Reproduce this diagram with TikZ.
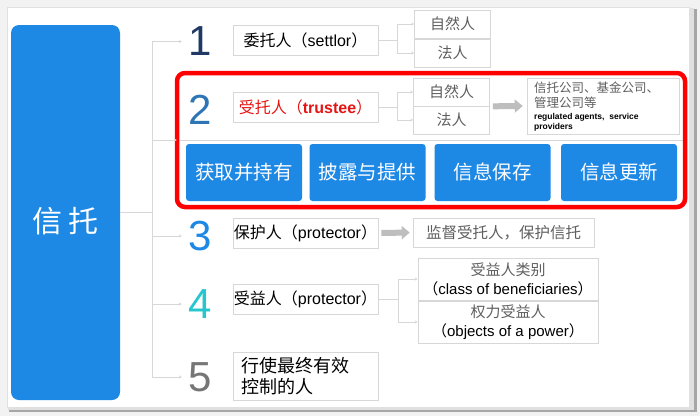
\documentclass[tikz,border=0pt]{standalone}
\usepackage{xcolor}
\usepackage{fontspec}
\setmainfont{Liberation Sans}
\newfontfamily\cjk{Noto Sans CJK SC}
\usepackage{tikz}
\usetikzlibrary{arrows.meta}
\newcommand\latn[1]{{\rmfamily #1}}
\definecolor{trustblue}{RGB}{30,136,229}
\definecolor{numone}{RGB}{31,56,100}
\definecolor{numtwo}{RGB}{46,117,182}
\definecolor{numfour}{RGB}{38,198,206}
\definecolor{numfive}{RGB}{118,118,118}
\definecolor{linegray}{RGB}{215,215,215}
\definecolor{boxgray}{RGB}{215,215,215}
\definecolor{fatgray}{RGB}{190,190,190}
\definecolor{txtgray}{RGB}{95,95,95}
\definecolor{redline}{RGB}{255,0,0}
\definecolor{redtext}{RGB}{230,20,20}
\tikzset{
  num/.style={font=\fontsize{42}{42}\selectfont, minimum width=36pt, inner sep=0pt},
  box/.style={draw=boxgray, line width=0.6pt, fill=white, inner sep=0pt, minimum height=30pt},
  role/.style={box, minimum width=145pt, font=\cjk\fontsize{16}{19}\selectfont},
  kind/.style={box, minimum width=76pt, minimum height=28pt, text=txtgray, font=\cjk\fontsize{15}{18}\selectfont},
  duty/.style={fill=trustblue, rounded corners=3pt, minimum width=116pt, minimum height=57pt, text=white, font=\cjk\fontsize{19.5}{22}\selectfont},
  conn/.style={draw=linegray, line width=0.5pt},
  link/.style={conn, -{Stealth[length=3pt,width=3pt]}},
  fat/.style={draw=fatgray, line width=6pt, -{Triangle[length=8pt,width=13pt]}}
}

\begin{document}
\begin{tikzpicture}[x=1pt,y=-1pt]
  \useasboundingbox (0,0) rectangle (700,416);
  \fill[black!5] (0,0) rectangle (700,416);
  \fill[black!35] (9,9) rectangle (697,412);
  \fill[black!12] (8,8) rectangle (694,410);
  \filldraw[fill=white, draw=black!12] (7,7) rectangle (689,407);
  \node[fill=trustblue, rounded corners=8pt, minimum width=109pt, minimum height=375pt] (trust) at (65.5,212.5) {};
  \node[text=white, font=\cjk\fontsize{30}{30}\selectfont] (trustlbl) at (65.5,221) {信 托};
  \coordinate (hub) at (152,212.5);
  \draw[conn] (trust.east) -- (hub);
  \node[num, text=numone] (one) at (200,41.5) {1};
  \node[num, text=numtwo] (two) at (200,110) {2};
  \node[num, text=trustblue] (three) at (200,236) {3};
  \node[num, text=numfour] (four) at (200,304) {4};
  \node[num, text=numfive] (five) at (200,377) {5};
  \node[minimum width=508pt, minimum height=134pt] (group) at (431,140) {};
  \draw[conn] (group.west) -- (group.east);
  \node[draw=redline, line width=4.5pt, rounded corners=8pt, minimum width=508pt, minimum height=134pt] (groupframe) at (group) {};
  \draw[link] (hub) |- (one.west);
  \draw[link] (hub) |- (group.west);
  \draw[link] (hub) |- (three.west);
  \draw[link] (hub) |- (four.west);
  \draw[link] (hub) |- (five.west);
  \node[role] (settlor) at (305.5,40) {委托人（\latn{settlor}）};
  \node[role, text=redtext] (trustee) at (305.5,107) {受托人（\latn{\bfseries trustee}）};
  \node[role] (protector) at (305.5,233) {保护人（\latn{protector}）};
  \node[role] (beneficiary) at (305.5,299) {受益人（\latn{protector}）};
  \node[role, minimum height=48pt, text width=129pt, align=left, font=\cjk\fontsize{18}{21}\selectfont] (controller) at (305.5,376) {行使最终有效\\控制的人};
  \node[kind] (settlornat) at (452.5,24) {自然人};
  \node[kind] (settlorleg) at (452.5,53) {法人};
  \node[kind] (trusteenat) at (451.5,92) {自然人};
  \node[kind] (trusteeleg) at (451.5,120) {法人};
  \draw[link] (settlor.east) -- ++(19,0) |- (settlornat.west);
  \draw[link] (settlor.east) -- ++(19,0) |- (settlorleg.west);
  \draw[link] (trustee.east) -- ++(19,0) |- (trusteenat.west);
  \draw[link] (trustee.east) -- ++(19,0) |- (trusteeleg.west);
  \node[box, minimum width=152pt, minimum height=56pt] (agents) at (603,106) {};
  \node[anchor=north west, inner sep=0pt, align=left, text=txtgray, font=\cjk\fontsize{12.5}{15}\selectfont] (agentscn) at (534,82) {信托公司、基金公司、\\管理公司等};
  \node[anchor=north west, inner sep=0pt, align=left, font=\bfseries\fontsize{8.5}{10}\selectfont] (agentsen) at (534,113) {regulated agents,\ \ service\\providers};
  \draw[fat] ([xshift=3pt]trusteenat.south east) -- ([xshift=-4pt]agents.west);
  \node[duty] (hold) at (244,172.5) {获取并持有};
  \node[duty] (disclose) at (367.5,172.5) {披露与提供};
  \node[duty] (keep) at (492.5,172.5) {信息保存};
  \node[duty] (update) at (619,172.5) {信息更新};
  \node[box, minimum width=181pt, minimum height=29pt, text=txtgray, font=\cjk\fontsize{15.5}{18}\selectfont] (supervise) at (503.5,232.5) {监督受托人，保护信托};
  \draw[fat] ([xshift=3pt]protector.east) -- ([xshift=-3pt]supervise.west);
  \node[box, minimum width=180pt, minimum height=42pt, align=center, font=\cjk\fontsize{15}{19}\selectfont] (classes) at (508,279) {\textcolor{txtgray}{受益人类别}\\（\latn{class of beneficiaries}）};
  \node[box, minimum width=180pt, minimum height=42pt, align=center, font=\cjk\fontsize{15}{19}\selectfont] (objects) at (508,322) {\textcolor{txtgray}{权力受益人}\\（\latn{objects of a power}）};
  \draw[link] (beneficiary.east) -- ++(20,0) |- (classes.west);
  \draw[link] (beneficiary.east) -- ++(20,0) |- (objects.west);
\end{tikzpicture}
\end{document}
